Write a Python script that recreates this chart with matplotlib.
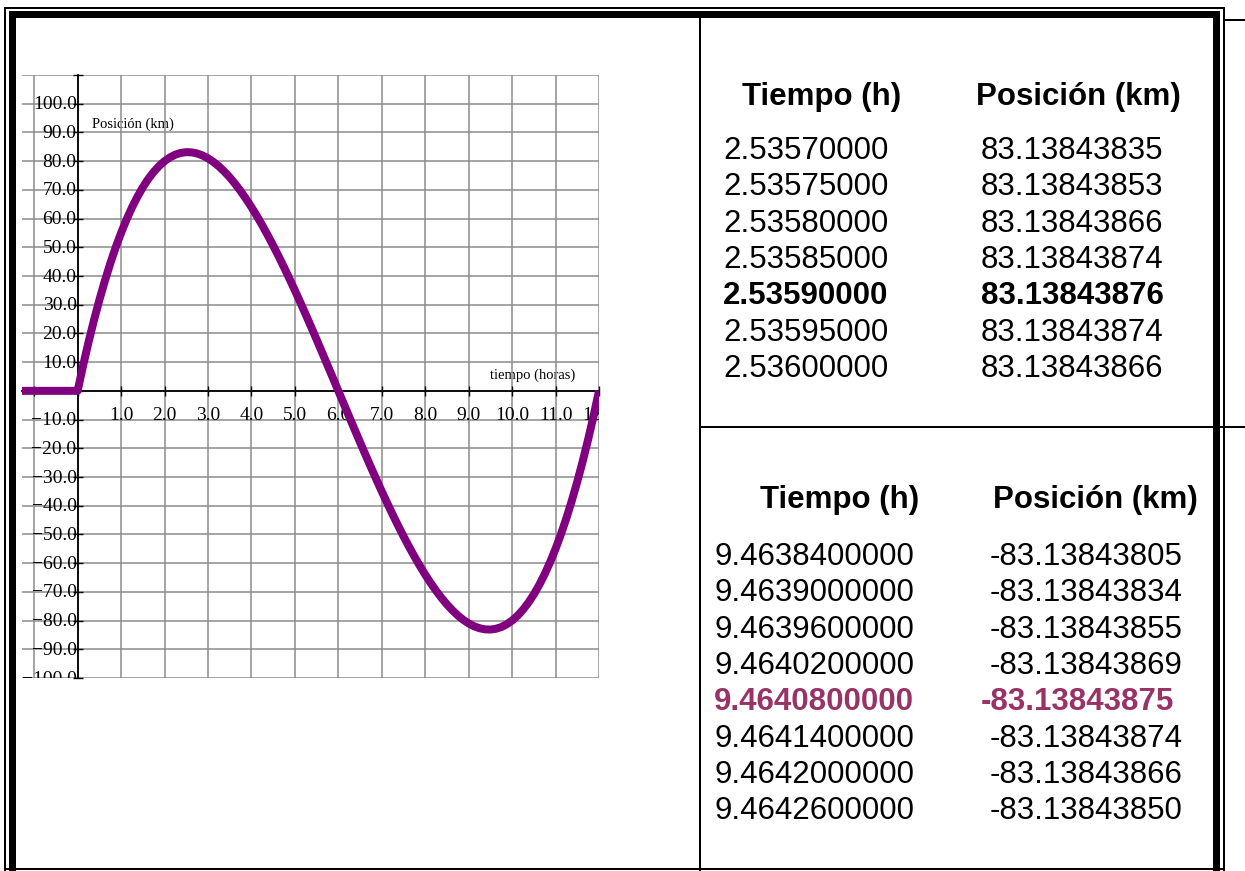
import matplotlib
matplotlib.use("Agg")
import matplotlib.pyplot as plt
from matplotlib.transforms import ScaledTranslation
from matplotlib.patches import Rectangle

# ---------------- data ----------------
tiempo = [-1.5, 0.0,
          0.125, 0.25, 0.375, 0.5, 0.625, 0.75, 0.875, 1.0,
          1.125, 1.25, 1.375, 1.5, 1.625, 1.75, 1.875, 2.0,
          2.125, 2.25, 2.375, 2.5, 2.625, 2.75, 2.875, 3.0,
          3.125, 3.25, 3.375, 3.5, 3.625, 3.75, 3.875, 4.0,
          4.125, 4.25, 4.375, 4.5, 4.625, 4.75, 4.875, 5.0,
          5.125, 5.25, 5.375, 5.5, 5.625, 5.75, 5.875, 6.0,
          6.125, 6.25, 6.375, 6.5, 6.625, 6.75, 6.875, 7.0,
          7.125, 7.25, 7.375, 7.5, 7.625, 7.75, 7.875, 8.0,
          8.125, 8.25, 8.375, 8.5, 8.625, 8.75, 8.875, 9.0,
          9.125, 9.25, 9.375, 9.5, 9.625, 9.75, 9.875, 10.0,
          10.125, 10.25, 10.375, 10.5, 10.625, 10.75, 10.875, 11.0,
          11.125, 11.25, 11.375, 11.5, 11.625, 11.75, 11.875, 12.0]
posicion = [0.0, 0.0,
            8.72, 16.89, 24.52, 31.63, 38.21, 44.30, 49.89, 55.0,
            59.64, 63.83, 67.57, 70.88, 73.76, 76.23, 78.31, 80.0,
            81.31, 82.27, 82.87, 83.13, 83.06, 82.67, 81.98, 81.0,
            79.74, 78.20, 76.41, 74.38, 72.10, 69.61, 66.90, 64.0,
            60.91, 57.64, 54.21, 50.63, 46.90, 43.05, 39.08, 35.0,
            30.83, 26.58, 22.26, 17.88, 13.45, 8.98, 4.50, 0.0,
            -4.50, -8.98, -13.45, -17.88, -22.26, -26.58, -30.83, -35.0,
            -39.08, -43.05, -46.90, -50.63, -54.21, -57.64, -60.91, -64.0,
            -66.90, -69.61, -72.10, -74.38, -76.41, -78.20, -79.74, -81.0,
            -81.98, -82.67, -83.06, -83.13, -82.87, -82.27, -81.31, -80.0,
            -78.31, -76.23, -73.76, -70.88, -67.57, -63.83, -59.64, -55.0,
            -49.89, -44.30, -38.21, -31.63, -24.52, -16.89, -8.72, 0.0]

x_ticks = [1, 2, 3, 4, 5, 6, 7, 8, 9, 10, 11, 12]
y_ticks = [100, 90, 80, 70, 60, 50, 40, 30, 20, 10,
           -10, -20, -30, -40, -50, -60, -70, -80, -90, -100]
x_grid = list(range(-1, 13))
y_grid = list(range(-100, 111, 10))

xlabel_txt = "tiempo (horas)"
ylabel_txt = "Posición (km)"

headers = ["Tiempo (h)", "Posición (km)"]
tabla1_t = ["2.53570000", "2.53575000", "2.53580000", "2.53585000",
            "2.53590000", "2.53595000", "2.53600000"]
tabla1_p = ["83.13843835", "83.13843853", "83.13843866", "83.13843874",
            "83.13843876", "83.13843874", "83.13843866"]
tabla1_max = 4
tabla2_t = ["9.4638400000", "9.4639000000", "9.4639600000", "9.4640200000",
            "9.4640800000", "9.4641400000", "9.4642000000", "9.4642600000"]
tabla2_p = ["-83.13843805", "-83.13843834", "-83.13843855", "-83.13843869",
            "-83.13843875", "-83.13843874", "-83.13843866", "-83.13843850"]
tabla2_min = 4

# ---------------- figure ----------------
W, H = 1245, 871
fig = plt.figure(figsize=(W / 100, H / 100), dpi=100)
fig.patch.set_facecolor("white")

# overlay in pixel coordinates (origin top-left)
ov = fig.add_axes([0, 0, 1, 1], zorder=0)
ov.set_xlim(0, W)
ov.set_ylim(H, 0)
ov.axis("off")

def pw(px):
    return px * 72 / 100.0

def hline(x0, x1, y, w):
    ov.add_patch(Rectangle((x0, y - w / 2), x1 - x0, w, color="black", lw=0))

def vline(x, y0, y1, w):
    ov.add_patch(Rectangle((x - w / 2, y0), w, y1 - y0, color="black", lw=0))

# double border
hline(5, 1225, 8, 2)
vline(5, 7, 871, 2)
vline(1224, 7, 871, 2)
hline(9, 1220, 14.5, 7)
vline(12.5, 11, 871, 7)
vline(1216.5, 11, 871, 7)
hline(5, 1225, 869, 2)
# inner lines
vline(700, 18, 871, 2)
hline(700, 1245, 427, 2)
hline(1224, 1245, 20, 1.2)

# ---------------- plot ----------------
left, right, top, bottom = 22, 599, 75, 678
ax = fig.add_axes([left / W, 1 - bottom / H, (right - left) / W, (bottom - top) / H],
                  zorder=1)
ax.set_facecolor("none")
ax.set_xlim(-1.28, 11.95)
ax.set_ylim(-100, 110)

ax.set_xticks(x_grid)
ax.set_yticks(y_grid)
ax.set_xticklabels([])
ax.set_yticklabels([])
ax.grid(True, color="#8c8c8c", lw=1.1)
ax.set_axisbelow(True)
for s in ["top", "right"]:
    ax.spines[s].set_visible(False)
ax.spines["left"].set_position(("data", 0))
ax.spines["bottom"].set_position(("data", 0))
ax.spines["left"].set_linewidth(1.3)
ax.spines["bottom"].set_linewidth(1.3)
ax.tick_params(direction="inout", length=7, width=1.0, color="black")

ax.plot(tiempo, posicion, color="#800080", lw=pw(8), solid_capstyle="butt",
        solid_joinstyle="round", zorder=5)

serif = "Liberation Serif"
for v in x_ticks:
    tr = ax.transData + ScaledTranslation(0, -25 / 100, fig.dpi_scale_trans)
    ax.text(v, 0, f"{v:.1f}", transform=tr, ha="center", va="center",
            family=serif, fontsize=14, clip_on=True)
for v in y_ticks:
    tr = ax.transData + ScaledTranslation(-1 / 100, -1 / 100, fig.dpi_scale_trans)
    ax.text(0, v, f"{v:.1f}".replace("-", "\u2212"), transform=tr, ha="right",
            va="center", family=serif, fontsize=14, clip_on=True)

ov.text(92, 124, ylabel_txt, family=serif, fontsize=10.5, ha="left", va="center", zorder=3)
ov.text(490, 375, xlabel_txt, family=serif, fontsize=10.5, ha="left", va="center", zorder=3)

# ---------------- tables ----------------
sans = "Liberation Sans"
fs = 22.5
ov.text(742, 97, headers[0], family=sans, fontsize=fs, weight="bold", ha="left", va="center")
ov.text(976, 97, headers[1], family=sans, fontsize=fs, weight="bold", ha="left", va="center")
y0, dy = 151, 36.3
for i, (t, p) in enumerate(zip(tabla1_t, tabla1_p)):
    w = "bold" if i == tabla1_max else "normal"
    ov.text(723, y0 + i * dy, t, family=sans, fontsize=fs, weight=w, ha="left", va="center")
    ov.text(981, y0 + i * dy, p, family=sans, fontsize=fs, weight=w, ha="left", va="center")

ov.text(760, 500, headers[0], family=sans, fontsize=fs, weight="bold", ha="left", va="center")
ov.text(993, 500, headers[1], family=sans, fontsize=fs, weight="bold", ha="left", va="center")
y0 = 557
for i, (t, p) in enumerate(zip(tabla2_t, tabla2_p)):
    hl = i == tabla2_min
    w = "bold" if hl else "normal"
    c = "#993366" if hl else "black"
    ov.text(714, y0 + i * dy, t, family=sans, fontsize=fs, weight=w, color=c,
            ha="left", va="center")
    ov.text(981 if hl else 990, y0 + i * dy, p, family=sans, fontsize=fs, weight=w,
            color=c, ha="left", va="center")

fig.savefig("out.png", dpi=100)
